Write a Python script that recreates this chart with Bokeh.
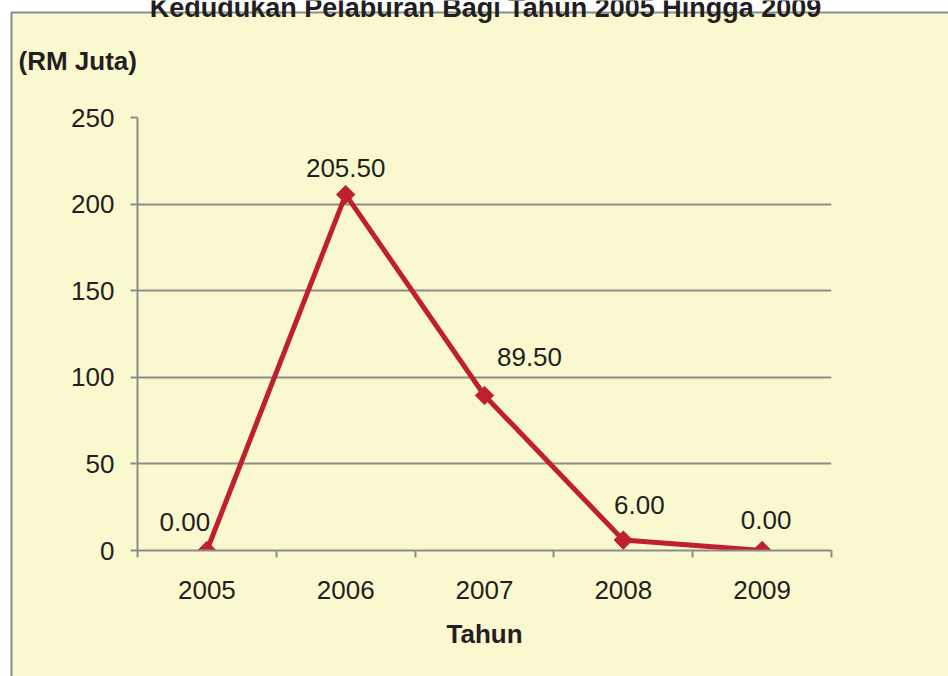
import math
from bokeh.plotting import figure
from bokeh.models import Range1d, FixedTicker, ColumnDataSource
from bokeh.core.properties import value
from bokeh.embed import file_html
from bokeh.resources import INLINE

# ---- data ----
years = [2005, 2006, 2007, 2008, 2009]
values = [0.00, 205.50, 89.50, 6.00, 0.00]
value_labels = ["0.00", "205.50", "89.50", "6.00", "0.00"]
y_ticks = [0, 50, 100, 150, 200, 250]
title_text = "Kedudukan Pelaburan Bagi Tahun 2005 Hingga 2009"
y_title = "(RM Juta)"
x_title = "Tahun"

# label placement offsets (pixels)
label_dx = [-22, 0, 45, 16, 4]
label_dy = [-29, -27, -38, -35, -31]

FONT = "Liberation Sans"
TXT = "#231f20"
GREY = "#8c8c8c"
YELLOW = "#faf8cf"
RED = "#c0202d"
W, H = 948, 676

# ---- background page (chart area box, titles) in pixel space ----
bg = figure(width=W, height=H, x_range=Range1d(0, W), y_range=Range1d(H, 0),
            output_backend="svg", toolbar_location=None,
            x_axis_location=None, y_axis_location=None,
            min_border=0, border_fill_color="white", background_fill_color="white")
bg.outline_line_color = None
bg.grid.visible = False
bg.styles = {"position": "absolute", "left": "0px", "top": "0px"}
bg.quad(left=[11], right=[W + 20], top=[12], bottom=[H + 20],
        fill_color=YELLOW, line_color=GREY, line_width=2)
bg.text(x=[485], y=[7], text=[title_text], text_font=value(FONT),
        text_font_size="27px", text_font_style="bold", text_color=TXT,
        text_align="center", text_baseline="alphabetic")
bg.text(x=[18], y=[60], text=[y_title], text_font=value(FONT),
        text_font_size="26px", text_font_style="bold", text_color=TXT,
        text_align="left", text_baseline="middle")

# ---- chart ----
p = figure(width=W, height=H,
           x_range=Range1d(2004.5, 2009.5), y_range=Range1d(0, 250),
           output_backend="svg", toolbar_location=None,
           min_border_left=137, min_border_right=117,
           min_border_top=117, min_border_bottom=126)
p.styles = {"position": "absolute", "left": "0px", "top": "0px"}
p.border_fill_color = None
p.background_fill_color = None
p.outline_line_color = None

# x axis
p.xaxis.ticker = FixedTicker(ticks=years, minor_ticks=[y - 0.5 for y in years] + [years[-1] + 0.5])
p.xaxis.major_tick_line_color = None
p.xaxis.major_tick_out = 0
p.xaxis.major_tick_in = 0
p.xaxis.minor_tick_out = 7
p.xaxis.minor_tick_in = 0
p.xaxis.minor_tick_line_color = GREY
p.xaxis.minor_tick_line_width = 2
p.xaxis.axis_line_color = GREY
p.xaxis.axis_line_width = 2
p.xaxis.major_label_standoff = 23
p.xaxis.axis_label = x_title
p.xaxis.axis_label_standoff = 17
p.xaxis.axis_label_text_font_style = "bold"

# y axis
p.yaxis.ticker = FixedTicker(ticks=y_ticks)
p.yaxis.major_tick_out = 7
p.yaxis.major_tick_in = 0
p.yaxis.major_tick_line_color = GREY
p.yaxis.major_tick_line_width = 2
p.yaxis.minor_tick_line_color = None
p.yaxis.axis_line_color = GREY
p.yaxis.axis_line_width = 2
p.yaxis.major_label_standoff = 16

for ax in (p.xaxis, p.yaxis):
    ax.major_label_text_font = FONT
    ax.major_label_text_font_size = "26px"
    ax.major_label_text_color = TXT
    ax.axis_label_text_font = FONT
    ax.axis_label_text_font_size = "26px"
    ax.axis_label_text_color = TXT

p.xgrid.visible = False
p.ygrid.grid_line_color = GREY
p.ygrid.grid_line_width = 2

src = ColumnDataSource(dict(x=years, y=values, lab=value_labels, dx=label_dx, dy=label_dy))
p.line("x", "y", source=src, line_color=RED, line_width=5)
p.scatter("x", "y", source=src, marker="square", angle=math.pi / 4, size=13,
          fill_color=RED, line_color=RED)
p.text("x", "y", text="lab", source=src, x_offset="dx", y_offset="dy",
       text_font=value(FONT), text_font_size="26px", text_color=TXT,
       text_align="center", text_baseline="middle")

open("out.html", "w").write(file_html([bg, p], INLINE))
